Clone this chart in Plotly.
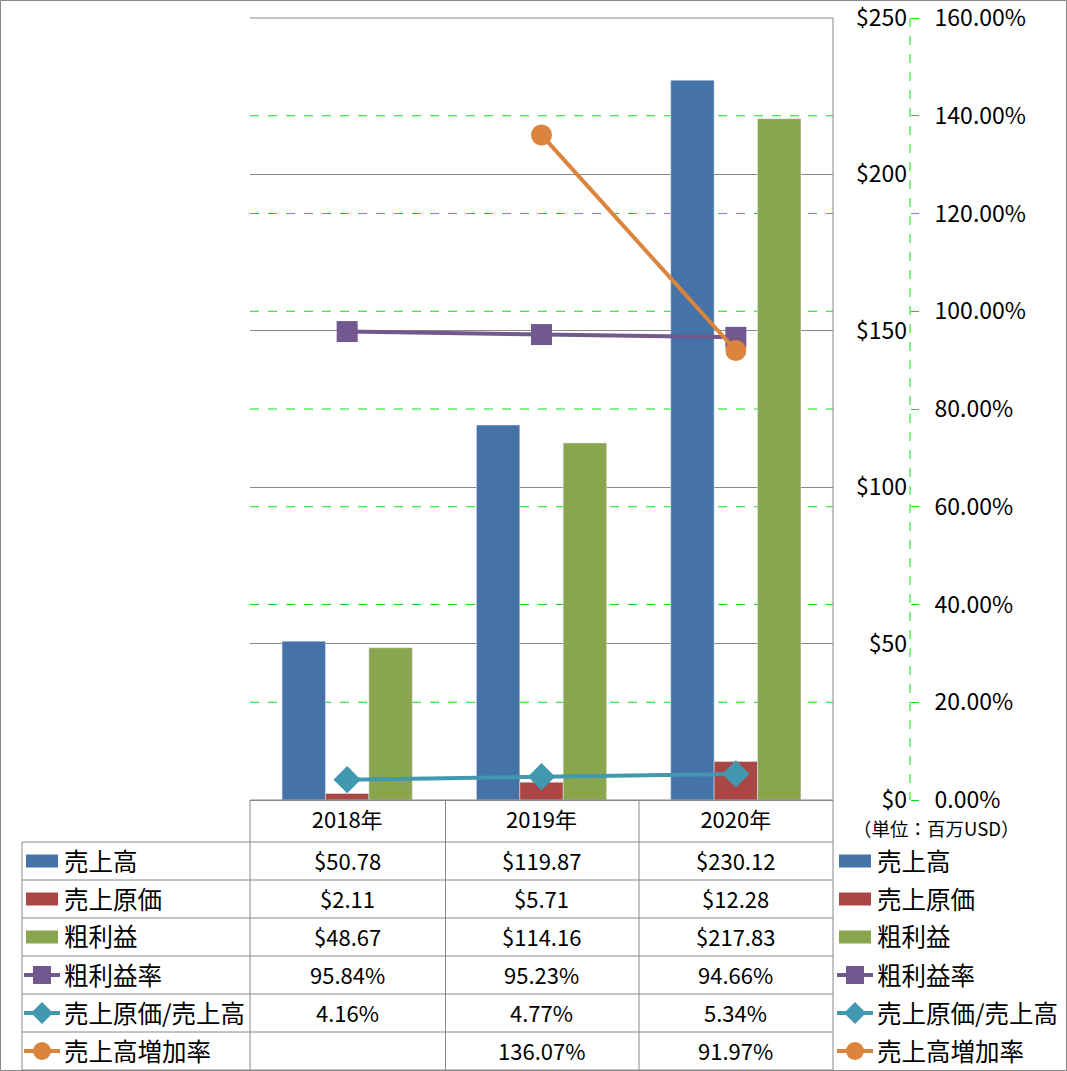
import plotly.graph_objects as go

# ---- data ----
years = ["2018年", "2019年", "2020年"]
sales = [50.78, 119.87, 230.12]
cogs = [2.11, 5.71, 12.28]
gross = [48.67, 114.16, 217.83]
gross_rate = [95.84, 95.23, 94.66]
cogs_ratio = [4.16, 4.77, 5.34]
growth = [None, 136.07, 91.97]
pct_ticks = [0, 20, 40, 60, 80, 100, 120, 140, 160]
usd_ticks = [0, 50, 100, 150, 200, 250]

names = ["売上高", "売上原価", "粗利益", "粗利益率", "売上原価/売上高", "売上高増加率"]
colors = ["#4572A7", "#AA4643", "#89A54E", "#71588F", "#4198AF", "#DB843D"]
kinds = ["bar", "bar", "bar", "square", "diamond", "circle"]

W, H = 1067, 1071
L, R, T, B = 250, 0, 18, 271
PW = W - L - R
PH = H - T - B
FONT = "Noto Sans CJK JP"
GRAY = "#888888"
GREEN = "#11DD11"


def fx(px):
    return (px - L) / PW


def fy(py):
    return (T + PH - py) / PH


fig = go.Figure()
for vals, nm, c in zip([sales, cogs, gross], names[:3], colors[:3]):
    fig.add_trace(go.Bar(x=years, y=vals, name=nm, marker_color=c, yaxis="y",
                         showlegend=False))

for vals, nm, c, sym in zip([gross_rate, cogs_ratio, growth], names[3:], colors[3:],
                            ["square", "diamond", "circle"]):
    fig.add_trace(go.Scatter(x=years, y=vals, name=nm, yaxis="y2", mode="lines+markers",
                             line=dict(color=c, width=4),
                             marker=dict(symbol=sym, size=21, color=c),
                             showlegend=False))

shapes = []

XDOM = (833 - L) / PW

# green dashed gridlines on the percent axis (drawn through the y2 scale)
for v in pct_ticks[1:-1]:
    shapes.append(dict(type="line", xref="paper", yref="y2", x0=0, x1=XDOM, y0=v, y1=v,
                       line=dict(color=GREEN, width=1, dash="dash"), layer="between"))


def hline(y, x0, x1, color=GRAY, dash=None):
    shapes.append(dict(type="line", xref="paper", yref="paper", x0=fx(x0), x1=fx(x1),
                       y0=fy(y), y1=fy(y), line=dict(color=color, width=1, dash=dash),
                       layer="above"))


def vline(x, y0, y1, color=GRAY, dash=None):
    shapes.append(dict(type="line", xref="paper", yref="paper", x0=fx(x), x1=fx(x),
                       y0=fy(y0), y1=fy(y1), line=dict(color=color, width=1, dash=dash),
                       layer="above"))


# outer border
shapes.append(dict(type="rect", xref="paper", yref="paper", x0=fx(0.5), x1=fx(1066.5),
                   y0=fy(0.5), y1=fy(1070.5), line=dict(color=GRAY, width=1), layer="above"))
# plot area top/right
hline(T, 250, 833)
vline(833, T, 1070)
# secondary axis dashed line
vline(910, T, 800, color=GREEN, dash="dash")

# table grid
row_top = 842
row_h = 38
hline(800, 250, 833)
for i in range(7):
    hline(row_top + i * row_h, 22, 833)
vline(22, 842, 1070)
for xx in [250, 445.5, 639]:
    vline(xx, 800, 1070)

annotations = []
row_vals = [
    ["${:.2f}".format(v) for v in sales],
    ["${:.2f}".format(v) for v in cogs],
    ["${:.2f}".format(v) for v in gross],
    ["{:.2f}%".format(v) for v in gross_rate],
    ["{:.2f}%".format(v) for v in cogs_ratio],
    ["" if v is None else "{:.2f}%".format(v) for v in growth],
]


def legend_key(cx_bar0, cx_bar1, cx_l0, cx_l1, cy, kind, color):
    if kind == "bar":
        shapes.append(dict(type="rect", xref="paper", yref="paper", x0=fx(cx_bar0),
                           x1=fx(cx_bar1), y0=fy(cy + 6.5), y1=fy(cy - 6.5),
                           fillcolor=color, line=dict(width=0), layer="above"))
    else:
        shapes.append(dict(type="line", xref="paper", yref="paper", x0=fx(cx_l0),
                           x1=fx(cx_l1), y0=fy(cy), y1=fy(cy),
                           line=dict(color=color, width=4), layer="above"))
        mx = (cx_l0 + cx_l1) / 2
        s = 9
        if kind == "square":
            shapes.append(dict(type="rect", xref="paper", yref="paper", x0=fx(mx - s),
                               x1=fx(mx + s), y0=fy(cy + s), y1=fy(cy - s),
                               fillcolor=color, line=dict(width=0), layer="above"))
        elif kind == "circle":
            shapes.append(dict(type="circle", xref="paper", yref="paper", x0=fx(mx - s),
                               x1=fx(mx + s), y0=fy(cy + s), y1=fy(cy - s),
                               fillcolor=color, line=dict(width=0), layer="above"))
        else:
            d = 11
            path = "M {} {} L {} {} L {} {} L {} {} Z".format(
                fx(mx - d), fy(cy), fx(mx), fy(cy - d), fx(mx + d), fy(cy), fx(mx), fy(cy + d))
            shapes.append(dict(type="path", xref="paper", yref="paper", path=path,
                               fillcolor=color, line=dict(width=0), layer="above"))


for i, (nm, c, k) in enumerate(zip(names, colors, kinds)):
    cy = row_top + i * row_h + row_h / 2
    legend_key(26, 58, 24, 60, cy, k, c)
    legend_key(839, 871, 837, 873, cy, k, c)
    annotations.append(dict(x=fx(62), y=fy(cy - 1), xref="paper", yref="paper", text=nm,
                            showarrow=False, xanchor="left", yanchor="middle",
                            font=dict(family=FONT, size=24.5, color="black")))
    annotations.append(dict(x=fx(875), y=fy(cy - 1), xref="paper", yref="paper", text=nm,
                            showarrow=False, xanchor="left", yanchor="middle",
                            font=dict(family=FONT, size=24.5, color="black")))
    for yr, txt in zip(years, row_vals[i]):
        if txt:
            annotations.append(dict(x=yr, y=fy(cy - 1), xref="x", yref="paper", text=txt,
                                    showarrow=False, xanchor="center", yanchor="middle",
                                    font=dict(family=FONT, size=22, color="black")))

annotations.append(dict(x=fx(851), y=fy(828), xref="paper", yref="paper",
                        text="（単位：百万USD）", showarrow=False, xanchor="left",
                        yanchor="middle", font=dict(family=FONT, size=18.5, color="black")))

fig.update_layout(
    width=W, height=H,
    margin=dict(l=L, r=R, t=T, b=B, autoexpand=False),
    paper_bgcolor="white", plot_bgcolor="white",
    barmode="group", bargap=0.33, bargroupgap=0,
    font=dict(family=FONT, color="black"),
    xaxis=dict(domain=[0, XDOM], type="category", showgrid=False,
               showline=True, linecolor=GRAY, linewidth=1, ticks="",
               tickfont=dict(size=22), ticklabelstandoff=1, automargin=False),
    yaxis=dict(range=[0, 250], tickvals=usd_ticks,
               ticktext=["${}".format(v) for v in usd_ticks],
               side="left", anchor="free",
               position=fx(910), showline=False, ticks="", zeroline=False,
               gridcolor=GRAY, gridwidth=1, tickfont=dict(size=23),
               ticklabelstandoff=3, automargin=False, ticklabeloverflow="allow"),
    yaxis2=dict(range=[0, 160], tickvals=pct_ticks,
                ticktext=["{:.2f}%".format(v) for v in pct_ticks],
                overlaying="y", side="right", anchor="free", position=fx(910),
                showline=False, ticks="outside", ticklen=8, tickcolor=GREEN, tickwidth=1,
                zeroline=False, showgrid=False, tickfont=dict(size=23),
                ticklabelstandoff=11, automargin=False, ticklabeloverflow="allow"),
    shapes=shapes, annotations=annotations,
)

fig.write_html("out.html")
